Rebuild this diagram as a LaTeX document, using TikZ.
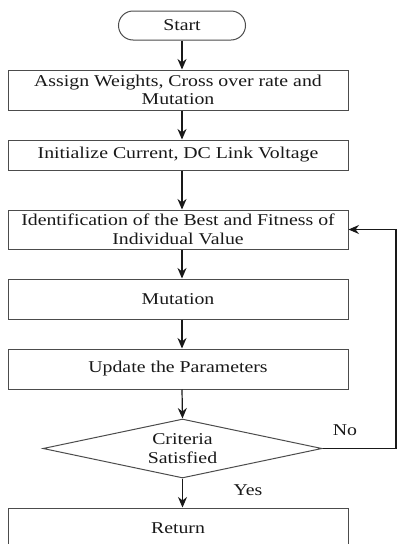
\documentclass[tikz,border=0pt]{standalone}
\usepackage{fontspec}
\setmainfont{Liberation Serif}[FakeStretch=1.2]
\usetikzlibrary{shapes.geometric,shapes.misc,arrows.meta}
\begin{document}
\begin{tikzpicture}[x=1pt,y=-1pt,
  txt/.style={font=\fontsize{16.5}{18.5}\selectfont, text=black!90},
  box/.style={txt, draw=black!70, line width=1pt, minimum width=340pt, align=center, inner sep=0pt},
  term/.style={txt, rounded rectangle, draw=black!70, line width=1pt, minimum width=127pt, minimum height=29pt, inner sep=0pt},
  decision/.style={txt, diamond, draw=black!70, line width=1pt, aspect=4.73, minimum width=279pt, minimum height=59pt, inner sep=0pt, align=center},
  arr/.style={draw=black!90, line width=1.2pt, -{Stealth[length=10.5pt,width=9pt]}},
  lbl/.style={txt}]
\clip (0,0) rectangle (397,544);
\fill[white] (0,0) rectangle (397,544);
\node[term] (start) at (182,25.5) {Start};
\node[box, minimum height=40pt] (b1) at (178,90) {Assign Weights, Cross over rate and\\Mutation};
\node[box, minimum height=30pt] (b2) at (178,155) {Initialize Current, DC Link Voltage};
\node[box, minimum height=39pt] (b3) at (178,229.5) {Identification of the Best and Fitness of\\Individual Value};
\node[box, minimum height=40pt] (b4) at (178,299) {Mutation};
\node[box, minimum height=40pt] (b5) at (178,369) {Update the Parameters};
\node[decision] (dec) at (182.5,448.5) {Criteria\\Satisfied};
\node[box, minimum height=40pt] (ret) at (178,528) {Return};
\node[lbl] (no) at (345,430) {No};
\node[lbl] (yes) at (248,490) {Yes};
\coordinate (right) at (396,0);
\draw[arr] (start.south) -- (start.south |- b1.north);
\draw[arr] (start.south |- b1.south) -- (start.south |- b2.north);
\draw[arr] (start.south |- b2.south) -- (start.south |- b3.north);
\draw[arr] (start.south |- b3.south) -- (start.south |- b4.north);
\draw[arr] (start.south |- b4.south) -- (start.south |- b5.north);
\draw[arr] (start.south |- b5.south) -- (dec.north);
\draw[arr] (dec.south) -- (dec.south |- ret.north);
\draw[arr] (dec.east) -- (dec.east -| right) |- (b3.east);
\end{tikzpicture}
\end{document}
